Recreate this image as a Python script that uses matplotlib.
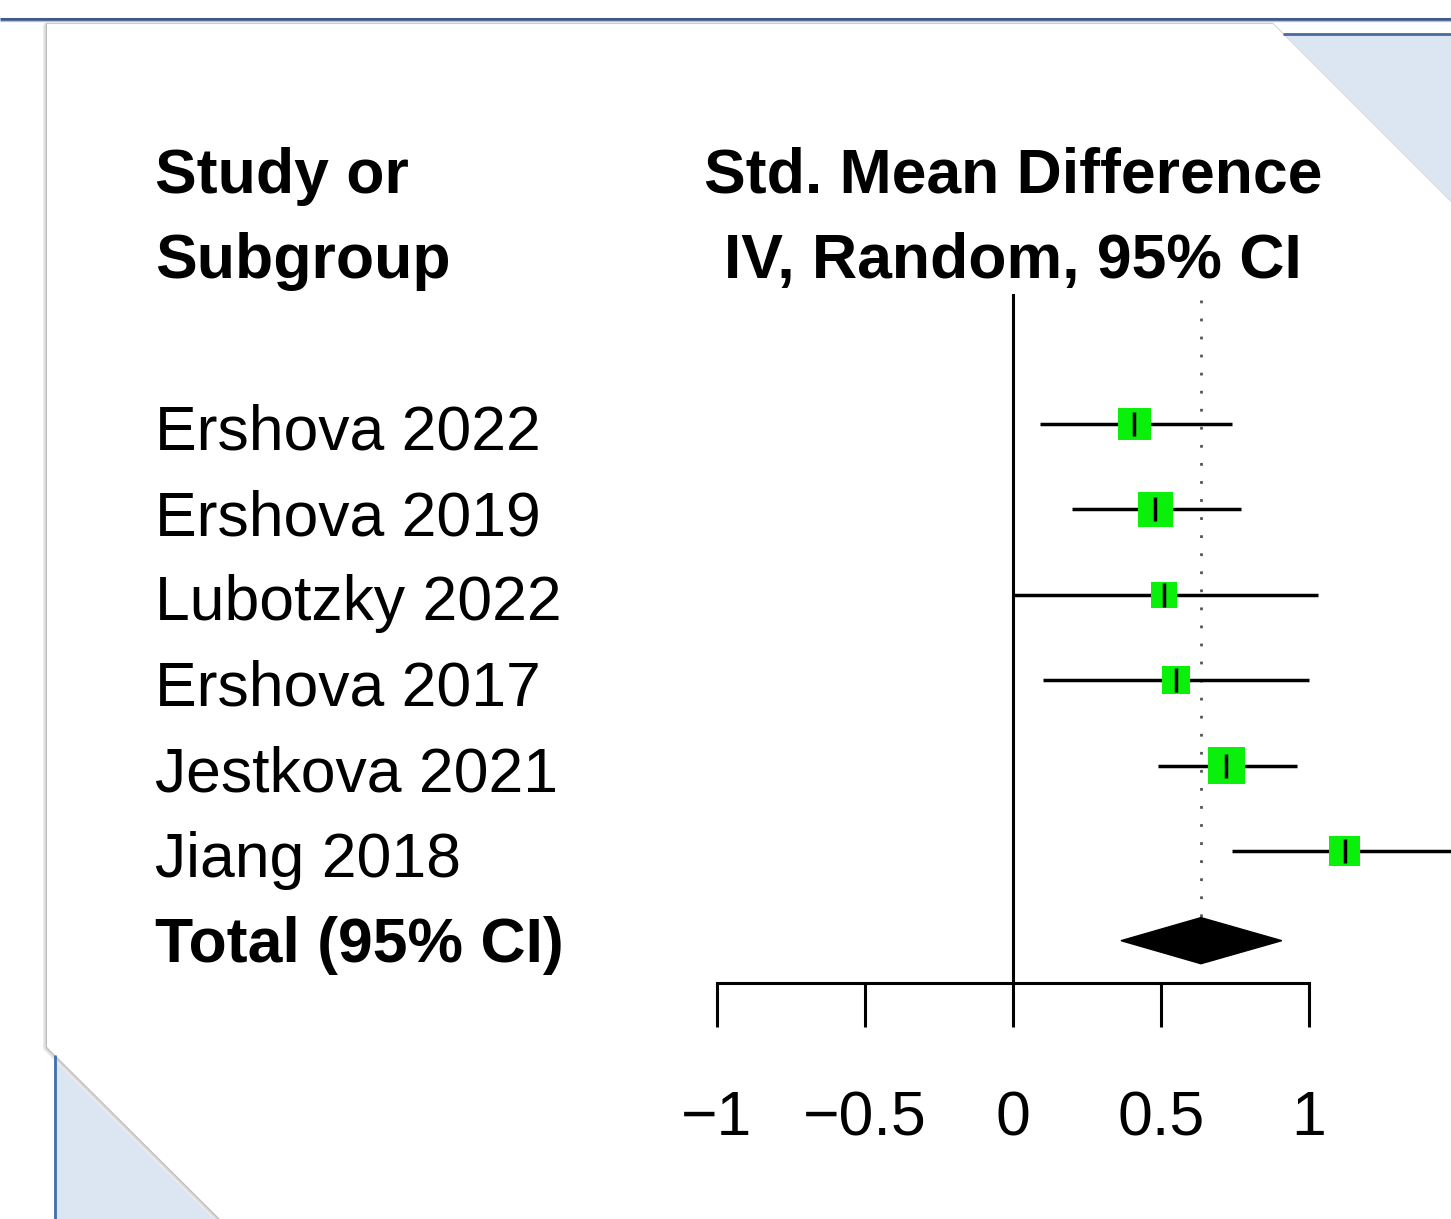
import matplotlib
matplotlib.use('Agg')
import matplotlib.pyplot as plt
from matplotlib.patches import Polygon
import numpy as np

plt.rcParams['font.family'] = ['Liberation Sans', 'DejaVu Sans']

# forest plot data
studies = ['Ershova 2022', 'Ershova 2019', 'Lubotzky 2022', 'Ershova 2017',
           'Jestkova 2021', 'Jiang 2018']
smd = [0.41, 0.48, 0.51, 0.55, 0.72, 1.12]
ci_low = [0.09, 0.20, 0.00, 0.10, 0.49, 0.74]
ci_high = [0.74, 0.77, 1.03, 1.00, 0.96, 1.50]
weights = [17.7, 20.1, 11.5, 13.0, 22.6, 15.1]
total_smd = 0.635
total_low = 0.365
total_high = 0.908
xticks = [-1, -0.5, 0, 0.5, 1]
xtick_labels = ['\u22121', '\u22120.5', '0', '0.5', '1']

W, H = 1451, 1219
fig = plt.figure(figsize=(W / 100, H / 100), dpi=100)

# background: slide page with folded corners (pixel coords)
bg = fig.add_axes([0, 0, 1, 1])
bg.set_xlim(0, W)
bg.set_ylim(H, 0)
bg.axis('off')
bg.plot([0, W], [19, 19], color='#3d5a8a', lw=2.2, solid_capstyle='butt')
bg.plot([0, W], [21, 21], color='#b8c4d6', lw=1, solid_capstyle='butt')
bg.add_patch(Polygon([(1283, 34), (W, 34), (W, 202)], closed=True,
                     facecolor='#dce6f2', edgecolor='none'))
bg.plot([1283, W], [34, 34], color='#4a6a9c', lw=2, solid_capstyle='butt')
bg.add_patch(Polygon([(55, 1055), (55, H), (220, H)], closed=True,
                     facecolor='#dce6f2', edgecolor='none'))
bg.plot([55, 55], [1055, H], color='#3f6eaa', lw=2, solid_capstyle='butt')
page = [(47, 24), (1273, 24), (W, 202), (W, H), (220, H), (47, 1047)]
for off, c in [(4, '#ececec'), (2.5, '#d6d6d6'), (1, '#bdbdbd')]:
    bg.add_patch(Polygon([(x - off * 0.3, y + off * 0.3) for x, y in page], closed=True,
                         facecolor='none', edgecolor=c, lw=off))
bg.add_patch(Polygon(page, closed=True, facecolor='white', edgecolor='none'))

# forest plot axes: 296 px per SMD unit, 85.4 px per row
ax = fig.add_axes([0, 0, 1, 1])
ax.patch.set_alpha(0)
ax.set_xlim(-1013 / 296, (W - 1013) / 296)
ax.set_ylim((H - 424) / 85.4, -424 / 85.4)
rows = np.arange(len(studies))
total_row = len(studies)

for s in ['top', 'left', 'right']:
    ax.spines[s].set_visible(False)
ax.spines['bottom'].set_position(('data', 6.546))
ax.spines['bottom'].set_bounds(-1, 1)
ax.spines['bottom'].set_linewidth(2.2)
ax.set_yticks([])
ax.set_xticks(xticks)
ax.set_xticklabels(xtick_labels)
ax.tick_params(axis='x', direction='out', length=31.5, width=2.2,
               labelsize=45, pad=45, colors='black')

# line of no effect and pooled estimate line
ax.plot([0, 0], [-1.51, 6.546], color='black', lw=2.2, zorder=2)
ax.plot([total_smd, total_smd], [-1.45, 5.8], color='#555555', lw=2,
        linestyle=(0, (1, 5.5)), zorder=1)

# CIs and boxes
sides = [7.8 * np.sqrt(w) * 0.72 for w in weights]
ax.hlines(rows, ci_low, ci_high, color='black', lw=2.5, zorder=3)
ax.scatter(smd, rows, s=np.array(sides) ** 2, marker='s', color='#0af00a',
           edgecolors='none', zorder=4)
ax.scatter(smd, rows, s=17 ** 2, marker='|', color='black', linewidths=2.5, zorder=5)

dy = total_row + 0.05
ax.add_patch(Polygon([(total_low, dy), (total_smd, dy - 0.27),
                      (total_high, dy), (total_smd, dy + 0.27)],
                     closed=True, facecolor='black', edgecolor='black', zorder=4))

# text columns
label_x = (155 - 1013) / 296
for r, name in zip(rows, studies):
    ax.text(label_x, r + 0.30, name, fontsize=45, ha='left', va='baseline')
ax.text(label_x, total_row + 0.30, 'Total (95% CI)', fontsize=45,
        fontweight='bold', ha='left', va='baseline')
ax.text(label_x, -2.705, 'Study or', fontsize=45, fontweight='bold',
        ha='left', va='baseline')
ax.text(label_x, -1.71, 'Subgroup', fontsize=45, fontweight='bold',
        ha='left', va='baseline')
ax.text(0, -2.705, 'Std. Mean Difference', fontsize=45, fontweight='bold',
        ha='center', va='baseline')
ax.text(0, -1.71, 'IV, Random, 95% CI', fontsize=45, fontweight='bold',
        ha='center', va='baseline')

fig.savefig('out.png', dpi=100)
